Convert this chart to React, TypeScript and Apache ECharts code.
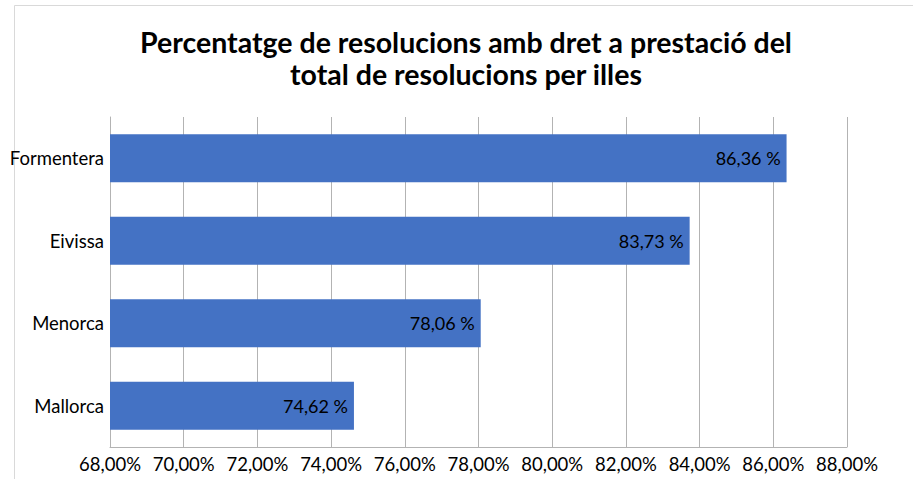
import React, { useEffect, useRef } from "react";
import * as echarts from "echarts";

const categories = ["Mallorca", "Menorca", "Eivissa", "Formentera"];
const values = [74.62, 78.06, 83.73, 86.36];
const titleLines = ["Percentatge de resolucions amb dret a prestació del", "total de resolucions per illes"];
const axisMin = 68;
const axisMax = 88;
const axisInterval = 2;

const fmt = (v: number) => v.toFixed(2).replace(".", ",");

export default function App() {
  const ref = useRef<HTMLDivElement>(null);
  useEffect(() => {
    document.body.style.margin = "0";
    const chart = echarts.init(ref.current!, null, { renderer: "svg" });
    const titleStyle = {
      fontFamily: "Lato",
      fontWeight: "bold" as const,
      fontSize: 28.5,
      lineHeight: 29,
      color: "#000000",
    };
    chart.setOption({
      animation: false,
      backgroundColor: "#ffffff",
      textStyle: { fontFamily: "Lato" },
      graphic: [
        {
          type: "rect",
          shape: { x: 14.5, y: 5.5, width: 1000, height: 600 },
          style: { fill: "none", stroke: "#d9d9d9", lineWidth: 1 },
          silent: true,
        },
      ],
      title: [
        { text: titleLines[0], left: 466, top: 27, textAlign: "center", padding: 0, textStyle: titleStyle },
        { text: titleLines[1], left: 466, top: 59.5, textAlign: "center", padding: 0, textStyle: titleStyle },
      ],
      grid: { left: 110, right: 66, top: 117, bottom: 32, containLabel: false },
      xAxis: {
        type: "value",
        min: axisMin,
        max: axisMax,
        interval: axisInterval,
        axisLine: { show: true, lineStyle: { color: "#b3b3b3" } },
        axisTick: { show: false },
        splitLine: { show: true, lineStyle: { color: "#b3b3b3" } },
        axisLabel: {
          formatter: (v: number) => fmt(v) + "%",
          color: "#000000",
          fontSize: 18.5,
          fontFamily: "Lato",
          margin: 7,
        },
      },
      yAxis: {
        type: "category",
        data: categories,
        axisLine: { show: true, lineStyle: { color: "#b3b3b3" } },
        axisTick: { show: false },
        axisLabel: { color: "#000000", fontSize: 18.5, fontFamily: "Lato", margin: 6 },
      },
      series: [
        {
          type: "bar",
          data: values,
          barCategoryGap: "42%",
          itemStyle: { color: "#4472C4" },
          label: {
            show: true,
            position: "insideRight",
            distance: 6,
            formatter: (p: any) => fmt(p.value) + " %",
            color: "#000000",
            fontSize: 18,
            fontFamily: "Lato",
          },
        },
      ],
    });
    return () => chart.dispose();
  }, []);
  return <div ref={ref} style={{ width: 913, height: 479, position: "absolute", left: 0, top: 0 }} />;
}
